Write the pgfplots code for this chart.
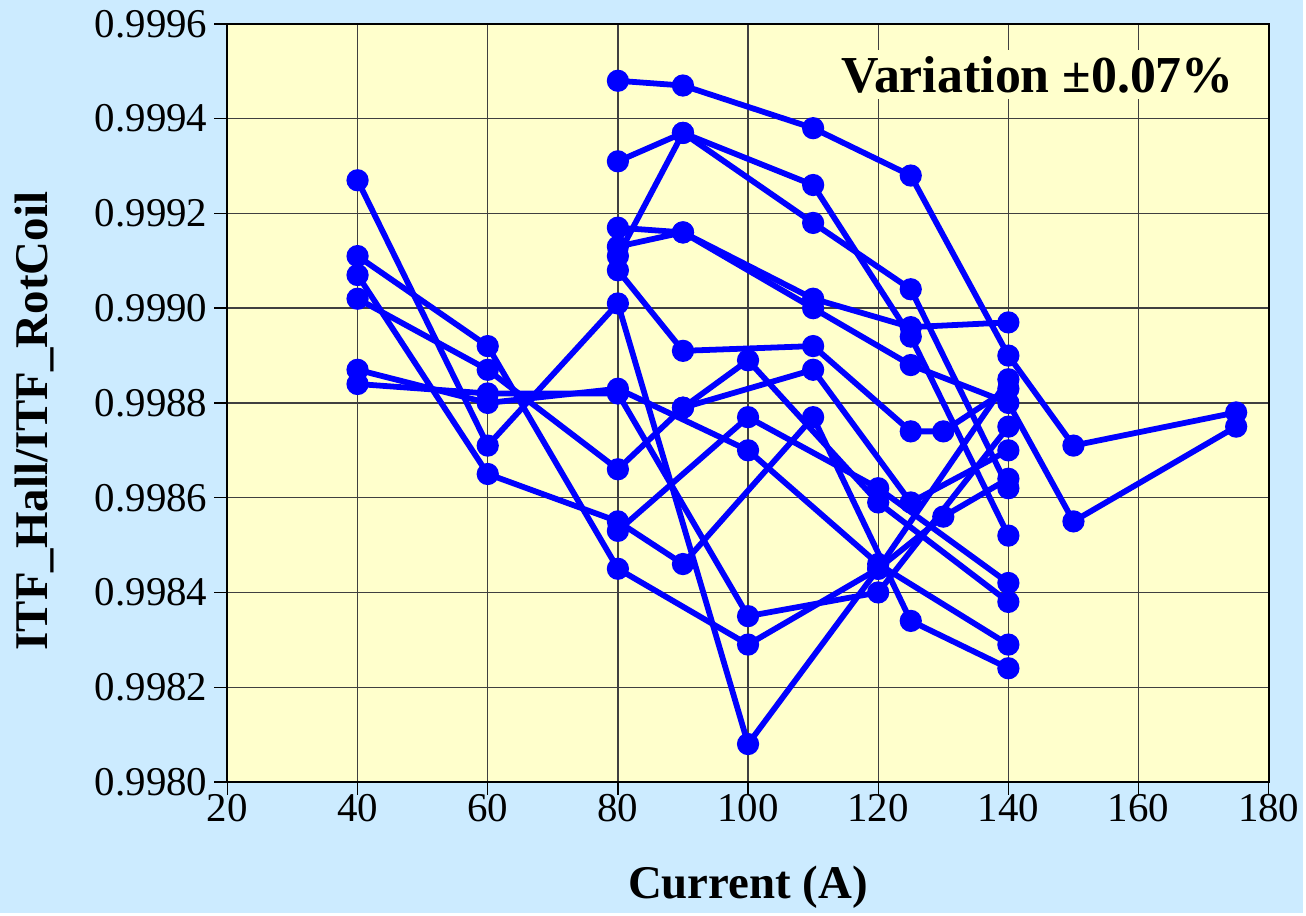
\documentclass[border=0pt]{standalone}
\usepackage{fontspec}
\setmainfont{Liberation Serif}
\usepackage{pgfplots}
\pgfplotsset{compat=1.18}
\definecolor{bgblue}{RGB}{204,235,255}
\definecolor{plotbg}{RGB}{255,255,204}
\definecolor{ser}{RGB}{0,0,255}
\pgfplotsset{s/.style={ser, line width=2.9pt, mark=*, mark size=4.1pt, mark options={solid, fill=ser, draw=ser}}}

\begin{document}
\begin{tikzpicture}
\fill[bgblue] (0,0) rectangle (653pt,457.5pt);
\begin{axis}[
    at={(114pt,65.5pt)}, anchor=south west,
    scale only axis, width=522pt, height=380pt,
    xmin=20, xmax=180, ymin=0.998, ymax=0.9996,
    xtick={20,40,60,80,100,120,140,160,180},
    xticklabels={20,40,60,80,100,120,140,160,180},
    ytick={0.998,0.9982,0.9984,0.9986,0.9988,0.999,0.9992,0.9994,0.9996},
    yticklabels={0.9980,0.9982,0.9984,0.9986,0.9988,0.9990,0.9992,0.9994,0.9996},
    tick label style={font=\fontsize{20.5}{24}\selectfont, black},
    xticklabel style={yshift=4pt},
    axis background/.style={fill=plotbg},
    grid=major, major grid style={black!75, line width=0.7pt},
    axis line style={black, line width=1pt},
    tick align=outside, major tick length=6.5pt,
    tick style={black, line width=0.7pt},
    xtick pos=left, ytick pos=left,
    xlabel={\bfseries Current (A)},
    ylabel={\bfseries ITF\_Hall/ITF\_RotCoil},
    label style={font=\fontsize{23.5}{28}\selectfont},
    xlabel style={at={(axis description cs:0.5,-0.139)}, anchor=center},
    ylabel style={at={(axis description cs:-0.185,0.476)}, anchor=center},
    clip=false,
]
% S1
\addplot[s] coordinates {(40,0.99927) (60,0.99871) (80,0.99901) (100,0.99808) (120,0.99845) (140,0.99885)};
% S2
\addplot[s] coordinates {(40,0.99911) (60,0.99892) (80,0.99845) (100,0.99829) (120,0.99845) (130,0.99856) (140,0.99864)};
% S3
\addplot[s] coordinates {(40,0.99907) (60,0.99865) (80,0.99855) (90,0.99846) (110,0.99877) (125,0.99834) (140,0.99824)};
% S4
\addplot[s] coordinates {(40,0.99902) (60,0.99887) (80,0.99866) (90,0.99879) (110,0.99887) (125,0.99859) (140,0.99870)};
% S5
\addplot[s] coordinates {(40,0.99887) (60,0.99880) (80,0.99883) (100,0.99870) (120,0.99846) (140,0.99829)};
% S6
\addplot[s] coordinates {(40,0.99884) (60,0.99882) (80,0.99882) (100,0.99835) (120,0.99840) (140,0.99875)};
% S7
\addplot[s] coordinates {(80,0.99948) (90,0.99947) (110,0.99938) (125,0.99928) (140,0.99890) (150,0.99871) (175,0.99878)};
% S8
\addplot[s] coordinates {(80,0.99931) (90,0.99937) (110,0.99926) (125,0.99894) (140,0.99852)};
% S9
\addplot[s] coordinates {(80,0.99911) (90,0.99937) (110,0.99918) (125,0.99904) (140,0.99862)};
% S10
\addplot[s] coordinates {(80,0.99917) (90,0.99916) (110,0.99902) (125,0.99896) (140,0.99897)};
% S11
\addplot[s] coordinates {(80,0.99913) (90,0.99916) (110,0.99900) (125,0.99888) (140,0.99880) (150,0.99855) (175,0.99875)};
% S12
\addplot[s] coordinates {(80,0.99908) (90,0.99891) (110,0.99892) (125,0.99874) (130,0.99874) (140,0.99883)};
% S13
\addplot[s] coordinates {(80,0.99853) (100,0.99877) (120,0.99862) (140,0.99842)};
% S14
\addplot[s] coordinates {(90,0.99879) (100,0.99889) (120,0.99859) (140,0.99838)};

\node[fill=plotbg, inner sep=3pt, font=\fontsize{26}{30}\selectfont\bfseries]
  at (rel axis cs:0.778,0.933) {Variation ±0.07\%};
\end{axis}
\end{tikzpicture}
\end{document}
